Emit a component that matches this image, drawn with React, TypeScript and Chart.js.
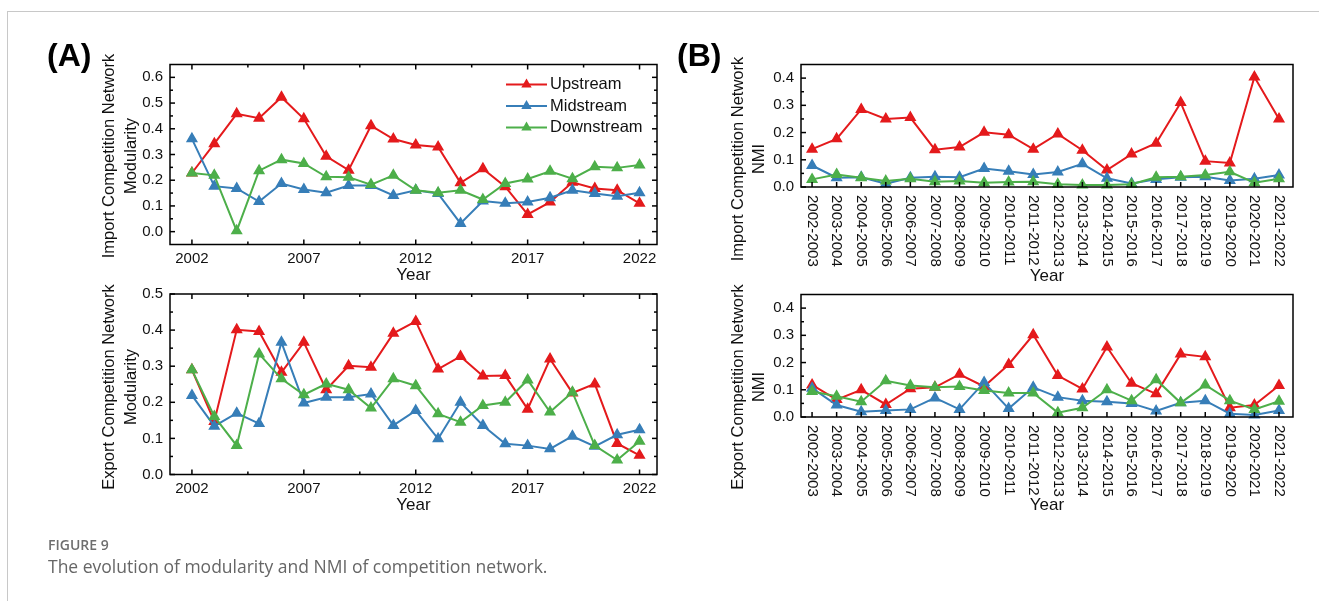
import React, { useEffect, useRef } from "react";
import { Chart, registerables } from "chart.js";

Chart.register(...registerables);

const FONT = "'Liberation Sans', Arial, Helvetica, sans-serif";
const PAGE_W = 1319;
const PAGE_H = 601;

// ---- data ----
const years = [
  2002, 2003, 2004, 2005, 2006, 2007, 2008, 2009, 2010, 2011, 2012,
  2013, 2014, 2015, 2016, 2017, 2018, 2019, 2020, 2021, 2022,
];

const periods = [
  "2002-2003", "2003-2004", "2004-2005", "2005-2006", "2006-2007",
  "2007-2008", "2008-2009", "2009-2010", "2010-2011", "2011-2012",
  "2012-2013", "2013-2014", "2014-2015", "2015-2016", "2016-2017",
  "2017-2018", "2018-2019", "2019-2020", "2020-2021", "2021-2022",
];

const seriesNames = ["Upstream", "Midstream", "Downstream"];
const seriesColors = ["#e41a1c", "#377eb8", "#4daf4a"];

// Import competition network modularity
const importModUp = [0.228, 0.342, 0.458, 0.441, 0.523, 0.439, 0.293, 0.239, 0.412, 0.36, 0.337, 0.329, 0.19, 0.245, 0.175, 0.067, 0.115, 0.192, 0.168, 0.161, 0.11];
const importModMid = [0.361, 0.177, 0.168, 0.117, 0.187, 0.164, 0.151, 0.179, 0.179, 0.141, 0.161, 0.148, 0.032, 0.119, 0.11, 0.115, 0.132, 0.161, 0.148, 0.138, 0.151];
const importModDown = [0.228, 0.219, 0.003, 0.237, 0.28, 0.265, 0.213, 0.212, 0.183, 0.219, 0.161, 0.151, 0.161, 0.125, 0.187, 0.205, 0.235, 0.206, 0.252, 0.248, 0.259];

// Export competition network modularity
const exportModUp = [0.29, 0.147, 0.401, 0.396, 0.283, 0.366, 0.235, 0.301, 0.297, 0.391, 0.424, 0.292, 0.327, 0.273, 0.274, 0.181, 0.32, 0.226, 0.251, 0.086, 0.053];
const exportModMid = [0.219, 0.134, 0.17, 0.141, 0.366, 0.198, 0.214, 0.214, 0.223, 0.136, 0.177, 0.099, 0.2, 0.136, 0.085, 0.08, 0.071, 0.106, 0.078, 0.11, 0.124];
const exportModDown = [0.29, 0.161, 0.08, 0.334, 0.265, 0.221, 0.251, 0.235, 0.184, 0.265, 0.246, 0.168, 0.145, 0.191, 0.2, 0.262, 0.173, 0.228, 0.08, 0.04, 0.092];

// Import competition network NMI
const importNmiUp = [0.139, 0.177, 0.285, 0.25, 0.255, 0.137, 0.147, 0.201, 0.192, 0.139, 0.195, 0.135, 0.062, 0.121, 0.161, 0.31, 0.095, 0.088, 0.404, 0.25];
const importNmiMid = [0.079, 0.034, 0.036, 0.012, 0.034, 0.038, 0.036, 0.068, 0.058, 0.046, 0.055, 0.085, 0.032, 0.013, 0.028, 0.036, 0.038, 0.024, 0.03, 0.044];
const importNmiDown = [0.028, 0.046, 0.034, 0.022, 0.03, 0.019, 0.022, 0.016, 0.018, 0.019, 0.01, 0.007, 0.007, 0.01, 0.036, 0.038, 0.044, 0.056, 0.016, 0.03];

// Export competition network NMI
const exportNmiUp = [0.118, 0.064, 0.1, 0.046, 0.104, 0.109, 0.157, 0.112, 0.193, 0.302, 0.152, 0.103, 0.257, 0.124, 0.085, 0.231, 0.221, 0.034, 0.044, 0.116];
const exportNmiMid = [0.106, 0.044, 0.019, 0.024, 0.028, 0.07, 0.028, 0.127, 0.031, 0.109, 0.073, 0.06, 0.056, 0.05, 0.022, 0.052, 0.06, 0.012, 0.007, 0.024];
const exportNmiDown = [0.094, 0.076, 0.056, 0.133, 0.116, 0.109, 0.112, 0.097, 0.088, 0.088, 0.016, 0.034, 0.1, 0.06, 0.137, 0.052, 0.118, 0.06, 0.028, 0.058];

// ---- tick values ----
const yearTicks = [2002, 2007, 2012, 2017, 2022];
const yearMinorTicks = [2004.5, 2009.5, 2014.5, 2019.5];
const importModTicks = [0, 0.1, 0.2, 0.3, 0.4, 0.5, 0.6];
const importModMinor = [0.05, 0.15, 0.25, 0.35, 0.45, 0.55];
const exportModTicks = [0, 0.1, 0.2, 0.3, 0.4, 0.5];
const exportModMinor = [0.05, 0.15, 0.25, 0.35, 0.45];
const nmiTicks = [0, 0.1, 0.2, 0.3, 0.4];
const nmiMinor = [0.05, 0.15, 0.25, 0.35];

// ---- layout ----
const Y_AXIS_W = 45;
const X_AXIS_H = 30;
const MAJOR_LEN = 5;
const MINOR_LEN = 3;

type Area = { l: number; r: number; t: number; b: number };

type PanelSpec = {
  id: string;
  area: Area;
  xValues: number[];
  xMin: number;
  xMax: number;
  yMin: number;
  yMax: number;
  series: number[][];
  xTicks: number[];
  xMinor: number[];
  rotatedLabels: string[] | null;
  yTicks: number[];
  yMinor: number[];
  mirror: boolean;
  titleLines: string[];
  titleX: number[];
  titleY: number;
  xTitleY: number;
  legend: boolean;
};

const periodIndex = periods.map((_, i) => i);

const panels: PanelSpec[] = [
  {
    id: "import-mod",
    area: { l: 170, r: 657, t: 64.5, b: 244.5 },
    xValues: years,
    xMin: 2001.02,
    xMax: 2022.78,
    yMin: -0.05,
    yMax: 0.65,
    series: [importModUp, importModMid, importModDown],
    xTicks: yearTicks,
    xMinor: yearMinorTicks,
    rotatedLabels: null,
    yTicks: importModTicks,
    yMinor: importModMinor,
    mirror: true,
    titleLines: ["Import Competition Network", "Modularity"],
    titleX: [109, 131],
    titleY: 156,
    xTitleY: 275,
    legend: true,
  },
  {
    id: "export-mod",
    area: { l: 170, r: 657, t: 294, b: 474.5 },
    xValues: years,
    xMin: 2001.02,
    xMax: 2022.78,
    yMin: 0,
    yMax: 0.5,
    series: [exportModUp, exportModMid, exportModDown],
    xTicks: yearTicks,
    xMinor: yearMinorTicks,
    rotatedLabels: null,
    yTicks: exportModTicks,
    yMinor: exportModMinor,
    mirror: true,
    titleLines: ["Export Competition Network", "Modularity"],
    titleX: [109, 131],
    titleY: 387,
    xTitleY: 505,
    legend: false,
  },
  {
    id: "import-nmi",
    area: { l: 801, r: 1293, t: 64.5, b: 187 },
    xValues: periodIndex,
    xMin: -0.45,
    xMax: 19.57,
    yMin: 0,
    yMax: 0.45,
    series: [importNmiUp, importNmiMid, importNmiDown],
    xTicks: periodIndex,
    xMinor: [],
    rotatedLabels: periods,
    yTicks: nmiTicks,
    yMinor: nmiMinor,
    mirror: false,
    titleLines: ["Import Competition Network", "NMI"],
    titleX: [738, 759],
    titleY: 159,
    xTitleY: 276,
    legend: false,
  },
  {
    id: "export-nmi",
    area: { l: 801, r: 1293, t: 294.5, b: 417 },
    xValues: periodIndex,
    xMin: -0.45,
    xMax: 19.57,
    yMin: 0,
    yMax: 0.45,
    series: [exportNmiUp, exportNmiMid, exportNmiDown],
    xTicks: periodIndex,
    xMinor: [],
    rotatedLabels: periods,
    yTicks: nmiTicks,
    yMinor: nmiMinor,
    mirror: false,
    titleLines: ["Export Competition Network", "NMI"],
    titleX: [738, 759],
    titleY: 387,
    xTitleY: 505,
    legend: false,
  },
];

// Frame, inward ticks, rotated category labels, axis titles and legend.
const panelDecor = {
  id: "panelDecor",
  afterDraw(chart: any, _args: any, opts: any) {
    const spec: PanelSpec = opts.spec;
    const { ctx, chartArea } = chart;
    const { left, right, top, bottom } = chartArea;
    const xs = chart.scales.x;
    const ys = chart.scales.y;
    ctx.save();
    ctx.strokeStyle = "#000";
    ctx.lineWidth = 1.5;
    ctx.lineCap = "butt";
    const seg = (x1: number, y1: number, x2: number, y2: number) => {
      ctx.beginPath();
      ctx.moveTo(x1, y1);
      ctx.lineTo(x2, y2);
      ctx.stroke();
    };
    spec.yTicks.forEach((v) => {
      const p = ys.getPixelForValue(v);
      seg(left, p, left + MAJOR_LEN, p);
      if (spec.mirror) seg(right, p, right - MAJOR_LEN, p);
    });
    spec.yMinor.forEach((v) => {
      const p = ys.getPixelForValue(v);
      seg(left, p, left + MINOR_LEN, p);
      if (spec.mirror) seg(right, p, right - MINOR_LEN, p);
    });
    spec.xTicks.forEach((v) => {
      const p = xs.getPixelForValue(v);
      seg(p, bottom, p, bottom - MAJOR_LEN);
      if (spec.mirror) seg(p, top, p, top + MAJOR_LEN);
    });
    spec.xMinor.forEach((v) => {
      const p = xs.getPixelForValue(v);
      seg(p, bottom, p, bottom - MINOR_LEN);
      if (spec.mirror) seg(p, top, p, top + MINOR_LEN);
    });
    ctx.strokeRect(left, top, right - left, bottom - top);

    ctx.fillStyle = "#111";
    if (spec.rotatedLabels) {
      ctx.font = `15px ${FONT}`;
      ctx.textAlign = "left";
      ctx.textBaseline = "middle";
      spec.rotatedLabels.forEach((label, i) => {
        const p = xs.getPixelForValue(spec.xTicks[i]);
        ctx.save();
        ctx.translate(p, bottom + 8);
        ctx.rotate(Math.PI / 2);
        ctx.fillText(label, 0, 0);
        ctx.restore();
      });
    }

    // axis titles
    ctx.font = `16.5px ${FONT}`;
    ctx.textAlign = "center";
    ctx.textBaseline = "middle";
    spec.titleLines.forEach((line, i) => {
      ctx.save();
      ctx.translate(spec.titleX[i], spec.titleY);
      ctx.rotate(-Math.PI / 2);
      ctx.fillText(line, 0, 0);
      ctx.restore();
    });
    ctx.font = `17px ${FONT}`;
    ctx.fillText("Year", (left + right) / 2, spec.xTitleY);

    if (spec.legend) {
      const rows = [84.5, 106, 127.5];
      ctx.font = `16.5px ${FONT}`;
      ctx.textAlign = "left";
      seriesNames.forEach((name, i) => {
        const yRow = rows[i];
        ctx.strokeStyle = seriesColors[i];
        ctx.fillStyle = seriesColors[i];
        ctx.lineWidth = 2;
        seg(506, yRow, 547, yRow);
        const r = 6;
        ctx.beginPath();
        for (let k = 0; k < 3; k++) {
          const a = (k * 2 * Math.PI) / 3;
          const px = 526.5 + Math.sin(a) * r;
          const py = yRow - Math.cos(a) * r;
          if (k === 0) ctx.moveTo(px, py);
          else ctx.lineTo(px, py);
        }
        ctx.closePath();
        ctx.fill();
        ctx.fillStyle = "#111";
        ctx.fillText(name, 550, yRow);
      });
    }
    ctx.restore();
  },
};

function PanelChart({ spec }: { spec: PanelSpec }) {
  const ref = useRef<HTMLCanvasElement | null>(null);
  useEffect(() => {
    if (!ref.current) return;
    const { area } = spec;
    const chart = new Chart(ref.current, {
      type: "line",
      data: {
        datasets: spec.series.map((vals, i) => ({
          label: seriesNames[i],
          data: vals.map((v, j) => ({ x: spec.xValues[j], y: v })),
          borderColor: seriesColors[i],
          backgroundColor: seriesColors[i],
          borderWidth: 2,
          pointStyle: "triangle",
          pointRadius: 5.5,
          pointBorderWidth: 1.5,
          pointBackgroundColor: seriesColors[i],
          pointBorderColor: seriesColors[i],
          tension: 0,
          order: 2 - i,
          clip: 8,
        })),
      },
      options: {
        responsive: false,
        animation: false,
        events: [],
        layout: {
          padding: {
            left: area.l - Y_AXIS_W,
            right: PAGE_W - area.r,
            top: area.t,
            bottom: PAGE_H - area.b - X_AXIS_H,
          },
        },
        plugins: {
          legend: { display: false },
          tooltip: { enabled: false },
          title: { display: false },
          panelDecor: { spec },
        } as any,
        scales: {
          x: {
            type: "linear",
            min: spec.xMin,
            max: spec.xMax,
            grid: { display: false, drawTicks: false, tickLength: 0 },
            border: { display: false },
            ticks: {
              display: !spec.rotatedLabels,
              color: "#111",
              font: { family: FONT, size: 15 },
              padding: 5,
              maxRotation: 0,
              autoSkip: false,
              callback: (v: any) => String(v),
            },
            afterBuildTicks: (s: any) => {
              s.ticks = spec.xTicks.map((value) => ({ value }));
            },
            afterFit: (s: any) => {
              s.height = X_AXIS_H;
            },
          },
          y: {
            type: "linear",
            min: spec.yMin,
            max: spec.yMax,
            grid: { display: false, drawTicks: false, tickLength: 0 },
            border: { display: false },
            ticks: {
              color: "#111",
              font: { family: FONT, size: 15 },
              padding: 7,
              callback: (v: any) => Number(v).toFixed(1),
            },
            afterBuildTicks: (s: any) => {
              s.ticks = spec.yTicks.map((value) => ({ value }));
            },
            afterFit: (s: any) => {
              s.width = Y_AXIS_W;
            },
          },
        },
      } as any,
      plugins: [panelDecor as any],
    });
    return () => chart.destroy();
  }, [spec]);
  return (
    <canvas
      ref={ref}
      width={PAGE_W}
      height={PAGE_H}
      style={{ position: "absolute", left: 0, top: 0, width: PAGE_W, height: PAGE_H }}
    />
  );
}

export default function App() {
  return (
    <div
      style={{
        position: "absolute",
        left: 0,
        top: 0,
        width: PAGE_W,
        height: PAGE_H,
        overflow: "hidden",
        background: "#fff",
      }}
    >
      <div
        style={{
          position: "absolute",
          left: 7,
          top: 11,
          width: PAGE_W - 7,
          height: PAGE_H - 11,
          borderTop: "1px solid #c8c8c8",
          borderLeft: "1px solid #c8c8c8",
        }}
      />
      {panels.map((p) => (
        <PanelChart key={p.id} spec={p} />
      ))}
      <div
        style={{
          position: "absolute",
          left: 47,
          top: 39,
          font: `bold 32px/32px ${FONT}`,
          color: "#000",
        }}
      >
        (A)
      </div>
      <div
        style={{
          position: "absolute",
          left: 677,
          top: 39,
          font: `bold 32px/32px ${FONT}`,
          color: "#000",
        }}
      >
        (B)
      </div>
      <div
        style={{
          position: "absolute",
          left: 48,
          top: 535,
          font: `600 14px/20px 'Open Sans', sans-serif`,
          color: "#6e6e6e",
        }}
      >
        FIGURE 9
      </div>
      <div
        style={{
          position: "absolute",
          left: 48,
          top: 554,
          font: `17.5px/24px 'Open Sans', sans-serif`,
          color: "#666",
          whiteSpace: "nowrap",
        }}
      >
        The evolution of modularity and NMI of competition network.
      </div>
    </div>
  );
}
